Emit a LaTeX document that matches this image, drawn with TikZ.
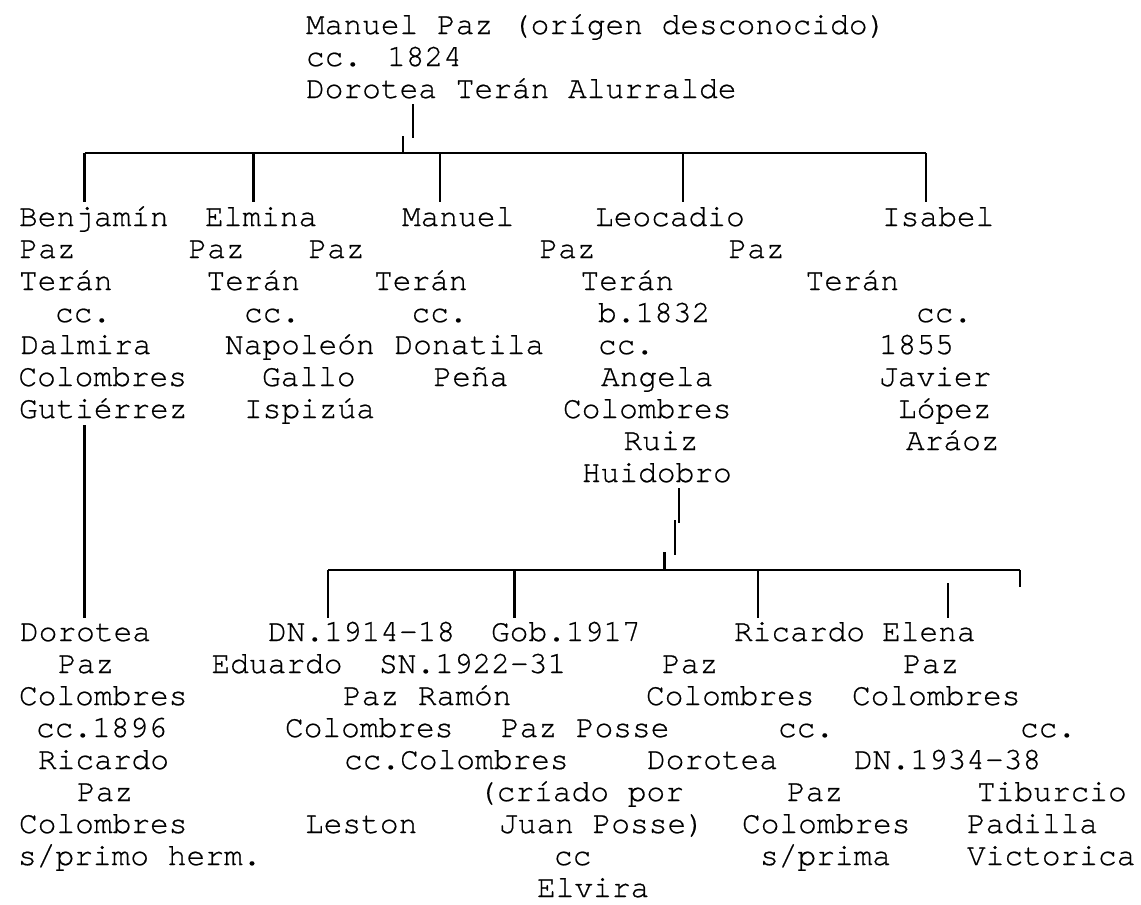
\documentclass[tikz,border=0pt]{standalone}
\usepackage{fontspec}
\newfontfamily\cur[FakeBold=0.6]{TeX Gyre Cursor}
\tikzset{
  txt/.style={anchor=base west, inner sep=0pt, outer sep=0pt, font=\cur\fontsize{23.4pt}{23.4pt}\selectfont},
  link/.style={line width=1.7pt, line cap=butt}
}
\begin{document}
\begin{tikzpicture}[x=0.75pt, y=-0.75pt]
\useasboundingbox[fill=white] (0,0) rectangle (1141,904);
% ---- top couple
\node[txt] (p0a) at (306,34) {Manuel Paz (orígen desconocido)};
\node[txt] (p0b) at (306,66) {cc. 1824};
\node[txt] (p0c) at (306,98) {Dorotea Terán Alurralde};
% ---- generation 2
\node[txt] (b1) at (19,226) {Benjamín};
\node[txt] (e1) at (205,226) {Elmina};
\node[txt] (m1) at (402,226) {Manuel};
\node[txt] (l1) at (595,226) {Leocadio};
\node[txt] (i1) at (882,226) {Isabel};
\node[txt] (b2) at (19.5,258) {Paz};
\node[txt] (e2) at (188.5,258) {Paz};
\node[txt] (m2) at (308.5,258) {Paz};
\node[txt] (l2) at (539.5,258) {Paz};
\node[txt] (i2) at (728.5,258) {Paz};
\node[txt] (b3) at (19,290) {Terán};
\node[txt] (e3) at (206.5,290) {Terán};
\node[txt] (m3) at (374,290) {Terán};
\node[txt] (l3) at (580.5,290) {Terán};
\node[txt] (i3) at (805.5,290) {Terán};
\node[txt] (b4) at (55,322) {cc.};
\node[txt] (e4) at (244,322) {cc.};
\node[txt] (m4) at (411.5,322) {cc.};
\node[txt] (l4) at (598,322) {b.1832};
\node[txt] (i4) at (916,322) {cc.};
\node[txt] (b5) at (20.5,354) {Dalmira};
\node[txt] (e5) at (225,354) {Napoleón};
\node[txt] (m5) at (394.5,354) {Donatila};
\node[txt] (l5) at (598,354) {cc.};
\node[txt] (i5) at (879,354) {1855};
\node[txt] (b6) at (18.5,386) {Colombres};
\node[txt] (e6) at (262,386) {Gallo};
\node[txt] (m6) at (433.5,386) {Peña};
\node[txt] (l6) at (601,386) {Angela};
\node[txt] (i6) at (879,386) {Javier};
\node[txt] (b7) at (19,418) {Gutiérrez};
\node[txt] (e7) at (244,418) {Ispizúa};
\node[txt] (l7) at (563,418) {Colombres};
\node[txt] (i7) at (898,418) {López};
\node[txt] (l8) at (623.5,450) {Ruiz};
\node[txt] (i8) at (906,450) {Aráoz};
\node[txt] (l9) at (582,482) {Huidobro};
% ---- generation 3
\node[txt] (d1) at (20,641) {Dorotea};
\node[txt] (ed1) at (268,641) {DN.1914-18};
\node[txt] (ra1) at (491,641) {Gob.1917};
\node[txt] (ri1) at (734,641) {Ricardo};
\node[txt] (el1) at (882,641) {Elena};
\node[txt] (d2) at (58,673) {Paz};
\node[txt] (ed2) at (211.5,673) {Eduardo};
\node[txt] (ra2) at (379,673) {SN.1922-31};
\node[txt] (ri2) at (662,673) {Paz};
\node[txt] (el2) at (903,673) {Paz};
\node[txt] (d3) at (19,705) {Colombres};
\node[txt] (ed3) at (343,705) {Paz Ramón};
\node[txt] (ri3) at (646,705) {Colombres};
\node[txt] (el3) at (852,705) {Colombres};
\node[txt] (d4) at (36,737) {cc.1896};
\node[txt] (ed4) at (285,737) {Colombres};
\node[txt] (ra4) at (501,737) {Paz Posse};
\node[txt] (ri4) at (778,737) {cc.};
\node[txt] (el4) at (1020,737) {cc.};
\node[txt] (d5) at (38,769) {Ricardo};
\node[txt] (ed5) at (344,769) {cc.Colombres};
\node[txt] (ri5) at (647,769) {Dorotea};
\node[txt] (el5) at (854,769) {DN.1934-38};
\node[txt] (d6) at (77,801) {Paz};
\node[txt] (ra6) at (478,801) {(críado por};
\node[txt] (ri6) at (787,801) {Paz};
\node[txt] (el6) at (977,801) {Tiburcio};
\node[txt] (d7) at (19,833) {Colombres};
\node[txt] (ed7) at (305,833) {Leston};
\node[txt] (ra7) at (499,833) {Juan Posse)};
\node[txt] (ri7) at (742,833) {Colombres};
\node[txt] (el7) at (967,833) {Padilla};
\node[txt] (d8) at (18,865) {s/primo herm.};
\node[txt] (ra8) at (554,865) {cc};
\node[txt] (ri8) at (760,865) {s/prima};
\node[txt] (el8) at (967,865) {Victorica};
\node[txt] (ra9) at (537,897) {Elvira};
% ---- connector points, top family
\coordinate (ta) at (412.7,104);
\coordinate (tb) at (412.7,138);
\coordinate (tc) at (403,136);
\coordinate (td) at (403,153);
\coordinate (h1l) at (84.5,153);
\coordinate (h1r) at (926,153);
\coordinate (g1) at (84.5,202);
\coordinate (g2) at (253.5,202);
\coordinate (g3) at (440,202);
\coordinate (g4) at (683,202);
\coordinate (g5) at (926,202);
\draw[link] (ta) -- (tb);
\draw[link] (tc) -- (td);
\draw[link] (h1l) -- (h1r);
\foreach \g in {g1,g2,g3,g4,g5} \draw[link] (\g |- h1l) -- (\g);
% ---- Benjamin to Dorotea
\coordinate (bd1) at (84.5,425);
\coordinate (bd2) at (84.5,618);
\draw[link] (bd1) -- (bd2);
% ---- Leocadio family
\coordinate (ua) at (679,488);
\coordinate (ub) at (679,523);
\coordinate (uc) at (675,520);
\coordinate (ud) at (675,555);
\coordinate (ue) at (664.5,552);
\coordinate (uf) at (664.5,570);
\coordinate (h2l) at (328,570);
\coordinate (h2r) at (1020,570);
\coordinate (k1) at (328,618);
\coordinate (k2) at (514.5,618);
\coordinate (k3) at (758,618);
\coordinate (k4a) at (948,583);
\coordinate (k4b) at (948,618);
\coordinate (k5) at (1020,587);
\draw[link] (ua) -- (ub);
\draw[link] (uc) -- (ud);
\draw[link] (ue) -- (uf);
\draw[link] (h2l) -- (h2r);
\foreach \k in {k1,k2,k3} \draw[link] (\k |- h2l) -- (\k);
\draw[link] (k4a) -- (k4b);
\draw[link] (h2r) -- (k5);
\end{tikzpicture}
\end{document}
